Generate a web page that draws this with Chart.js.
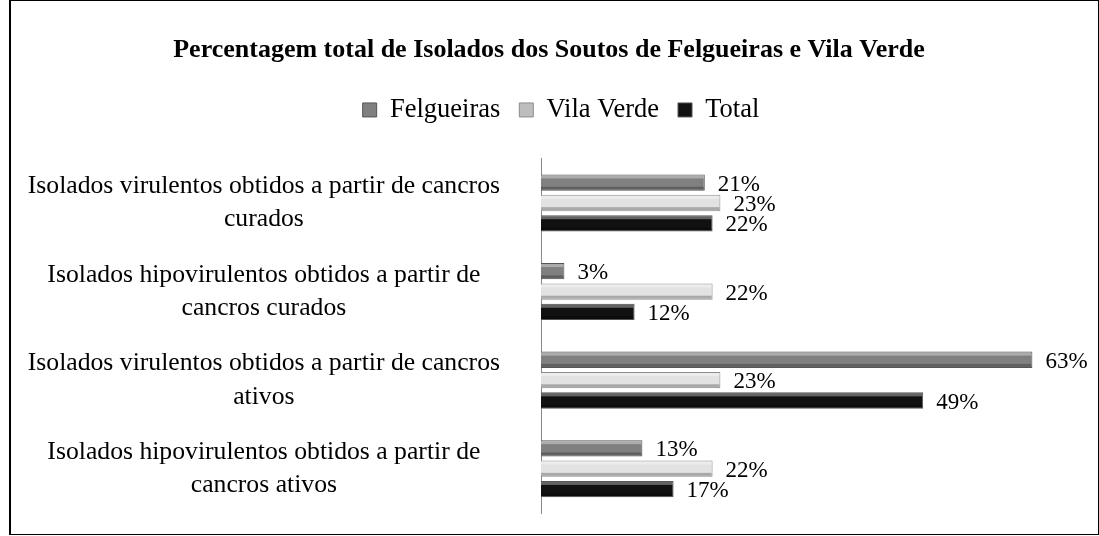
<!DOCTYPE html>
<html>
<head>
<meta charset="utf-8">
<script src="https://cdn.jsdelivr.net/npm/chart.js@4"></script>
<style>
    html, body { margin: 0; padding: 0; background: #fff; }
    #wrap {
        position: absolute;
        left: 9px;
        top: 0;
        width: 1087px;
        height: 533px;
        border: 1px solid #000;
        border-left-width: 2px;
    }
</style>
</head>
<body>
<div id="wrap"><canvas id="barChart"></canvas></div>
<script>
// Data
const categories = [
    ['Isolados virulentos obtidos a partir de cancros', 'curados'],
    ['Isolados hipovirulentos obtidos a partir de', 'cancros curados'],
    ['Isolados virulentos obtidos a partir de cancros', 'ativos'],
    ['Isolados hipovirulentos obtidos a partir de', 'cancros ativos']
];
const felgueiras = [21, 3, 63, 13];
const vilaVerde = [23, 22, 23, 22];
const total = [22, 12, 49, 17];

Chart.defaults.font.family = "'Liberation Serif', 'Times New Roman', serif";
Chart.defaults.color = '#000';

// Bevel look: light strip on top, dark strip on bottom of each bar
const bevelPlugin = {
    id: 'bevel',
    afterDatasetsDraw(chart) {
        const ctx = chart.ctx;
        chart.data.datasets.forEach((ds, i) => {
            const meta = chart.getDatasetMeta(i);
            meta.data.forEach(bar => {
                const left = bar.base, right = bar.x;
                const top = bar.y - bar.height / 2;
                const h = bar.height;
                ctx.save();
                ctx.fillStyle = 'rgba(255,255,255,0.35)';
                ctx.fillRect(left, top + 1, right - left - 1, 3);
                ctx.fillStyle = 'rgba(0,0,0,0.25)';
                ctx.fillRect(left, top + h - 4, right - left - 1, 3);
                ctx.restore();
            });
        });
    }
};

// Value labels to the right of the bars
const valueLabels = {
    id: 'valueLabels',
    afterDatasetsDraw(chart) {
        const ctx = chart.ctx;
        ctx.save();
        ctx.font = "23px 'Liberation Serif', serif";
        ctx.fillStyle = '#000';
        ctx.textBaseline = 'middle';
        chart.data.datasets.forEach((ds, i) => {
            const meta = chart.getDatasetMeta(i);
            meta.data.forEach((bar, j) => {
                ctx.fillText(ds.data[j] + '%', bar.x + 13, bar.y + 2);
            });
        });
        ctx.restore();
    }
};

// Legend: fixed height and nudged a bit to the right, like the original
const legendTweak = {
    id: 'legendTweak',
    beforeInit(chart) {
        const origFit = chart.legend.fit;
        chart.legend.fit = function () {
            origFit.bind(this)();
            this.height = 81;
        };
    },
    afterLayout(chart) {
        chart.legend.left += 12;
        chart.legend.right += 12;
    }
};

new Chart(document.getElementById('barChart'), {
    type: 'bar',
    data: {
        labels: categories,
        datasets: [
            {
                label: 'Felgueiras',
                data: felgueiras,
                backgroundColor: '#808080',
                borderColor: '#555',
                borderWidth: 1
            },
            {
                label: 'Vila Verde',
                data: vilaVerde,
                backgroundColor: '#e2e2e2',
                borderColor: '#8c8c8c',
                borderWidth: 1
            },
            {
                label: 'Total',
                data: total,
                backgroundColor: '#111',
                borderColor: '#555',
                borderWidth: 1
            }
        ]
    },
    options: {
        indexAxis: 'y',
        responsive: true,
        maintainAspectRatio: false,
        animation: false,
        categoryPercentage: 0.69,
        barPercentage: 0.8,
        layout: {
            padding: { left: 0, right: 11, top: 16, bottom: 21 }
        },
        plugins: {
            title: {
                display: true,
                text: 'Percentagem total de Isolados dos Soutos de Felgueiras e Vila Verde',
                font: { size: 26, weight: 'bold' },
                padding: { top: 18, bottom: 11.5 }
            },
            legend: {
                position: 'top',
                labels: {
                    boxWidth: 14,
                    boxHeight: 14,
                    padding: 19,
                    font: { size: 26.5 },
                    generateLabels(chart) {
                        const items = Chart.defaults.plugins.legend.labels.generateLabels(chart);
                        items[1].fillStyle = '#bdbdbd';
                        return items;
                    }
                }
            },
            tooltip: { enabled: false }
        },
        scales: {
            x: {
                display: false,
                min: 0,
                max: 70
            },
            y: {
                grid: { display: false, drawTicks: false },
                border: { display: true, color: '#888', width: 1 },
                ticks: {
                    crossAlign: 'center',
                    padding: 41,
                    font: { size: 25.7, lineHeight: 1.3 }
                },
                afterFit(scale) {
                    scale.width = 530;
                    scale.paddingTop = 0;
                    scale.paddingBottom = 0;
                }
            }
        }
    },
    plugins: [bevelPlugin, valueLabels, legendTweak]
});
</script>
</body>
</html>
